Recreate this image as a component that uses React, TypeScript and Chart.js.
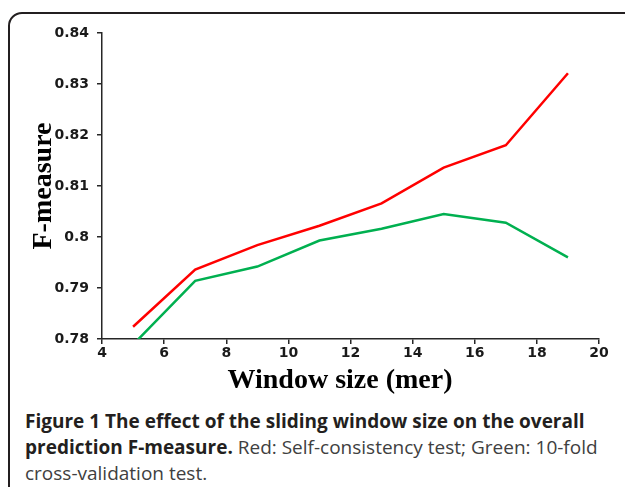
import React, { useEffect, useRef } from "react";
import { Chart, registerables } from "chart.js";

Chart.register(...registerables);

const windowSizes = [5, 7, 9, 11, 13, 15, 17, 19];
const selfConsistency = [0.7824, 0.7936, 0.7984, 0.8022, 0.8066, 0.8136, 0.818, 0.8321];
const crossValidation = [0.7789, 0.7914, 0.7942, 0.7993, 0.8016, 0.8045, 0.8028, 0.796];
const xTicks = [4, 6, 8, 10, 12, 14, 16, 18, 20];
const yTicks = [0.78, 0.79, 0.8, 0.81, 0.82, 0.83, 0.84];
const xTitle = "Window size (mer)";
const yTitle = "F-measure";

const axisColor = "#262626";
const tickFont = { family: "'DejaVu Sans'", size: 14, weight: "bold" as const };

export default function App() {
  const ref = useRef<HTMLCanvasElement | null>(null);

  useEffect(() => {
    if (!ref.current) return;
    const chart = new Chart(ref.current, {
      type: "line",
      data: {
        datasets: [
          {
            label: "Self-consistency test",
            data: windowSizes.map((x, i) => ({ x, y: selfConsistency[i] })),
            borderColor: "#ff0000",
            borderWidth: 2.5,
            pointRadius: 0,
            tension: 0,
            fill: false,
          },
          {
            label: "10-fold cross-validation test",
            data: windowSizes.map((x, i) => ({ x, y: crossValidation[i] })),
            borderColor: "#00b050",
            borderWidth: 2.5,
            pointRadius: 0,
            tension: 0,
            fill: false,
          },
        ],
      },
      options: {
        animation: false,
        responsive: false,
        devicePixelRatio: 1,
        layout: { padding: { top: 33, right: 26, left: 0, bottom: 0 } },
        plugins: { legend: { display: false }, tooltip: { enabled: false } },
        scales: {
          x: {
            type: "linear",
            min: 4,
            max: 20,
            afterBuildTicks: (s: any) => {
              s.ticks = xTicks.map((v) => ({ value: v }));
            },
            afterFit: (s: any) => {
              s.height = 61;
            },
            ticks: {
              font: tickFont,
              color: "#1a1a1a",
              padding: 1,
              maxRotation: 0,
              autoSkip: false,
              callback: (v: any) => String(v),
            },
            grid: { drawOnChartArea: false, drawTicks: true, tickLength: 5, color: axisColor, lineWidth: 1.5 },
            border: { display: true, color: axisColor, width: 1.5 },
            title: {
              display: true,
              text: xTitle + "   ",
              font: { family: "'Liberation Serif'", size: 28, weight: "bold" },
              color: "#000",
              padding: { top: 0, bottom: 2 },
            },
          },
          y: {
            type: "linear",
            min: 0.78,
            max: 0.84,
            afterBuildTicks: (s: any) => {
              s.ticks = yTicks.map((v) => ({ value: v }));
            },
            afterFit: (s: any) => {
              s.width = 102;
            },
            ticks: {
              font: tickFont,
              color: "#1a1a1a",
              padding: 8,
              autoSkip: false,
              callback: (v: any) => String(Number(Number(v).toFixed(2))),
            },
            grid: { drawOnChartArea: false, drawTicks: true, tickLength: 5, color: axisColor, lineWidth: 1.5 },
            border: { display: true, color: axisColor, width: 1.5 },
            title: {
              display: true,
              text: yTitle,
              font: { family: "'Liberation Serif'", size: 28, weight: "bold" },
              color: "#000",
              padding: { top: 27, bottom: 0 },
            },
          },
        },
      },
    });
    return () => chart.destroy();
  }, []);

  return (
    <div
      style={{
        position: "absolute",
        left: 0,
        top: 0,
        width: 625,
        height: 487,
        overflow: "hidden",
        background: "#fff",
      }}
    >
      <div
        style={{
          position: "absolute",
          left: 8,
          top: 12,
          width: 700,
          height: 600,
          border: "2px solid #231f20",
          borderRadius: 14,
          boxSizing: "border-box",
        }}
      />
      <canvas
        ref={ref}
        width={625}
        height={400}
        style={{ position: "absolute", left: 0, top: 0, width: 625, height: 400 }}
      />
      <div
        style={{
          position: "absolute",
          left: 25,
          top: 408,
          fontFamily: "'Open Sans', sans-serif",
          fontSize: 19,
          lineHeight: "26px",
          color: "#404040",
          whiteSpace: "nowrap",
        }}
      >
        <b style={{ color: "#231f20" }}>Figure 1 The effect of the sliding window size on the overall</b>
        <br />
        <b style={{ color: "#231f20" }}>prediction F-measure.</b> Red: Self-consistency test; Green: 10-fold
        <br />
        cross-validation test.
      </div>
    </div>
  );
}
